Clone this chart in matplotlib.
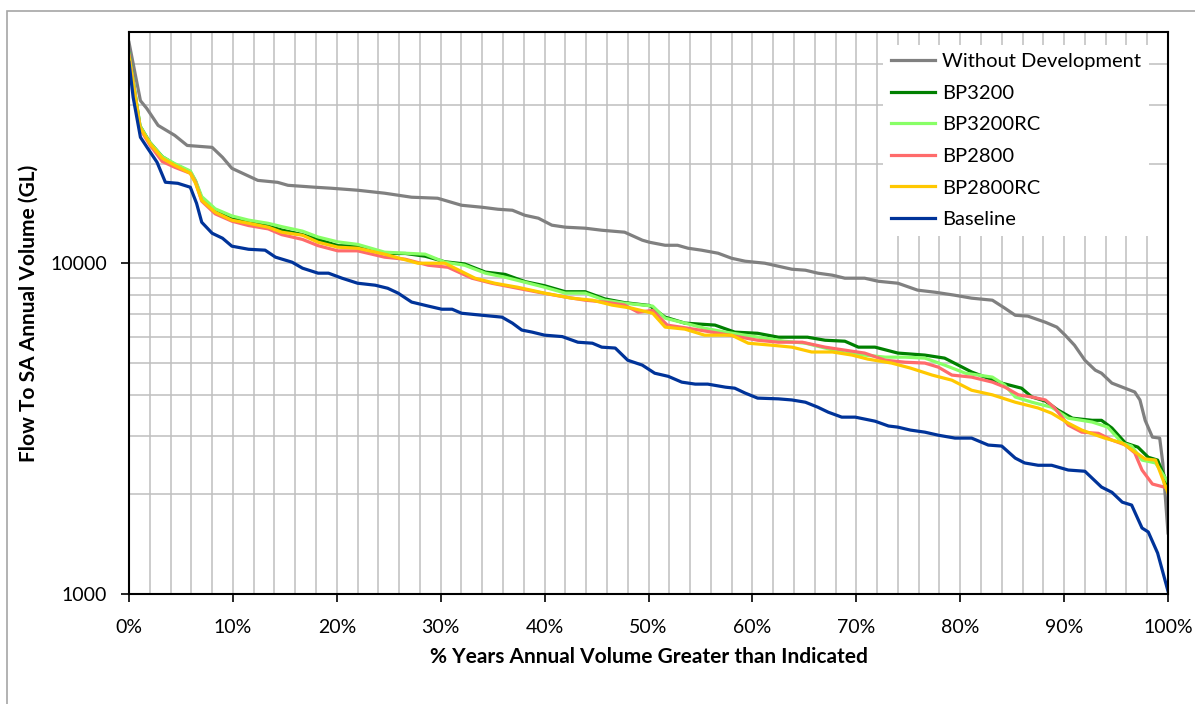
import numpy as np
import matplotlib as mpl
from matplotlib import pyplot as plt
from matplotlib.ticker import FixedLocator, NullFormatter, FuncFormatter

# % of years exceeded vs annual flow volume (GL)
x_without = [0, 1.1, 1.7, 2.8, 4.4, 5.6, 8.0, 9.0, 9.9, 12.4, 14.3, 15.3, 17.9, 19.5, 22, 24.6,
             27.2, 29.7, 32, 34, 35.5, 36.9, 38.1, 39.4, 40.7, 42, 43.9, 45.5, 47.7, 49.4, 50.1,
             51.6, 52.8, 53.8, 55.1, 56.7, 58, 59.3, 61.2, 63.8, 65.1, 66.3, 67.7, 68.9, 70.8,
             72.1, 74, 75.9, 77.6, 79.5, 81.1, 83.1, 84.3, 85.3, 86.5, 88.2, 89.3, 90.1, 91, 92,
             93, 93.6, 94.6, 95.6, 96.8, 97.3, 97.8, 98.5, 99.2, 99.5, 100]
without_dev = [46500, 31000, 29400, 26100, 24350, 22700, 22400, 20900, 19360, 17800, 17560, 17200,
               16970, 16850, 16620, 16280, 15830, 15720, 14970, 14760, 14560, 14460, 13960, 13680,
               13030, 12850, 12760, 12580, 12410, 11740, 11570, 11330, 11330, 11100, 10950, 10720,
               10350, 10140, 10000, 9590, 9525, 9330, 9200, 9010, 9010, 8820, 8700, 8290, 8170,
               8000, 7840, 7730, 7310, 6960, 6920, 6630, 6410, 6060, 5650, 5090, 4750, 4650, 4340,
               4220, 4080, 3860, 3350, 2980, 2960, 2490, 1530]

x_bp3200 = [0, 1.06, 2, 3.2, 4.4, 5.9, 6.4, 7, 8.3, 9.9, 11.5, 13.4, 14.7, 16.7, 18.2, 20.1, 22,
            24.6, 26.6, 28.5, 30.4, 32.3, 34.3, 36.2, 38.1, 40, 42, 43.9, 45.8, 47.7, 50.1,
            51.6, 53.5, 56.4, 58.3, 60.5, 62.5, 65.3, 67, 68.9, 70.2, 71.8, 74, 76.6, 78.5,
            80.2, 81.1, 82.4, 84, 85.9, 86.9, 88.2, 89.4, 90.8, 92.7, 93.6, 94.6, 95.9, 97.1,
            98.1, 99, 100]
bp3200 = [43000, 26000, 23200, 21000, 19900, 18900, 17700, 15700, 14400, 13600, 13400, 12950,
          12600, 12200, 11800, 11300, 11250, 10700, 10700, 10500, 10100, 9950, 9400, 9250, 8800,
          8550, 8200, 8200, 7800, 7600, 7450, 6870, 6590, 6500, 6190, 6140, 5975, 5975, 5850,
          5810, 5575, 5575, 5350, 5275, 5165, 4850, 4690, 4525, 4340, 4190, 3940, 3830, 3600,
          3400, 3350, 3350, 3175, 2860, 2780, 2590, 2540, 2135]

x_bp3200rc = [0, 1.06, 2, 3.2, 4.4, 5.9, 6.4, 7, 8.3, 9.9, 11.5, 13.4, 14.7, 16.7, 18.2, 20.1, 22,
              24.6, 26.6, 28.5, 30.4, 32.3, 34.3, 36.2, 38.1, 40, 42, 43.9, 45.8, 47.7, 50.4,
              51.6, 53.5, 55.4, 57.4, 59.3, 61.2, 63.1, 65.1, 67, 68.9, 70.8, 72.8, 74.7, 76.6,
              78.5, 80.5, 83.1, 84.3, 85.3, 86.9, 88.8, 90.4, 92.7, 94.2, 95.6, 96.5, 97.5, 98.8,
              100]
bp3200rc = [43000, 26000, 23200, 21000, 20000, 19000, 17800, 15900, 14600, 13900, 13500, 13200,
            12900, 12500, 12000, 11600, 11400, 10800, 10720, 10650, 10070, 9860, 9330, 9070,
            8760, 8460, 8120, 8120, 7730, 7570, 7420, 6820, 6590, 6360, 6190, 6060, 5935, 5810,
            5730, 5540, 5350, 5275, 5200, 5200, 5165, 4920, 4650, 4525, 4280, 3940, 3800, 3670,
            3400, 3310, 3195, 2860, 2800, 2540, 2490, 2180]

x_bp2800 = [0, 1.06, 2, 3.2, 4.4, 5.9, 6.4, 7, 8.3, 9.9, 11.5, 13.4, 14.7, 16.7, 18.2, 20.1, 22,
            24.6, 26.6, 28.8, 30.7, 33, 34.9, 37.4, 39.4, 42, 43.9, 45.8, 47.7, 49, 50.4,
            51.8, 53.8, 56.1, 58.3, 60.5, 62.5, 64.8, 67, 68.9, 70.8, 72.8, 74.7, 76.6, 77.9,
            79.2, 81.1, 83.1, 84.3, 85.6, 86.9, 88.2, 89.1, 90.4, 91.7, 93.3, 94.6, 95.9, 96.8,
            97.5, 98.5, 100]
bp2800 = [42500, 25500, 22800, 20300, 19500, 18700, 17600, 15400, 14100, 13400, 13000, 12700,
          12200, 11800, 11300, 10900, 10900, 10430, 10280, 9860, 9720, 9010, 8700, 8400, 8170,
          7900, 7730, 7630, 7470, 7110, 7200, 6500, 6360, 6190, 6020, 5850, 5770, 5770, 5575,
          5460, 5350, 5090, 5020, 4990, 4850, 4590, 4525, 4370, 4220, 4000, 3940, 3860, 3650,
          3240, 3085, 3060, 2920, 2820, 2670, 2370, 2150, 2090]

x_bp2800rc = [0, 1.06, 2, 3.2, 4.4, 5.9, 6.4, 7, 8.3, 9.9, 11.5, 13.4, 14.7, 16.7, 18.2, 20.1, 22,
              24.6, 27.8, 30.4, 33.3, 35.2, 37.4, 40, 42.6, 44.6, 46.5, 48.4, 50.4, 51.6, 53.5,
              55.4, 58, 59.6, 61.9, 63.8, 65.7, 67.7, 69.6, 71.1, 73.4, 75.2, 77.3, 79.2, 81.1,
              83.1, 85.3, 87.5, 88.8, 90.4, 91.7, 93.9, 95.6, 96.8, 97.8, 98.8, 100]
bp2800rc = [42000, 25760, 23040, 20760, 19770, 18700, 17450, 15500, 14260, 13490, 13210, 12850,
            12410, 12150, 11570, 11180, 11100, 10650, 10000, 10000, 9010, 8700, 8460, 8120, 7840,
            7730, 7470, 7310, 7060, 6410, 6320, 6060, 6060, 5730, 5650, 5575, 5390, 5390, 5275,
            5130, 4990, 4820, 4590, 4430, 4130, 4000, 3800, 3650, 3520, 3285, 3130, 2960, 2860,
            2690, 2560, 2540, 2020]

x_baseline = [0, 0.4, 1.1, 1.8, 2.7, 3.5, 4.7, 5.9, 6.5, 7, 8, 9, 9.9, 11.5, 13.1, 14.1, 15.7,
              16.7, 18.2, 19.2, 20.5, 22, 23.7, 24.9, 25.9, 27.2, 28.8, 30.1, 31.1, 32, 34, 35.9,
              36.9, 37.8, 38.8, 40, 41.7, 43.2, 44.6, 45.5, 46.8, 48, 49.4, 50.6, 51.9, 53.2,
              54.5, 55.7, 57.4, 58.3, 59.3, 60.5, 62.5, 63.8, 65.1, 66.3, 67.3, 68.6, 69.9, 71.8,
              73.1, 74, 75.2, 76.6, 77.9, 79.5, 81.1, 82.7, 84, 85.3, 86.2, 87.5, 88.8, 90.4, 92,
              93.6, 94.6, 95.6, 96.5, 97.5, 98.1, 99, 100]
baseline = [40500, 31730, 24030, 22250, 20190, 17570, 17440, 16970, 15180, 13300, 12320, 11900,
            11260, 11020, 10950, 10430, 10070, 9660, 9330, 9330, 9010, 8700, 8580, 8400, 8120,
            7630, 7420, 7260, 7260, 7060, 6960, 6870, 6590, 6280, 6190, 6060, 6000, 5770, 5730,
            5575, 5540, 5090, 4920, 4650, 4550, 4370, 4310, 4310, 4220, 4190, 4050, 3910, 3890,
            3860, 3800, 3670, 3545, 3425, 3425, 3330, 3220, 3195, 3130, 3085, 3020, 2960, 2960,
            2820, 2800, 2575, 2490, 2450, 2450, 2370, 2350, 2105, 2030, 1895, 1857, 1583, 1540,
            1330, 1020]

series = [
    ('Without Development', x_without, without_dev, '#808080'),
    ('BP3200', x_bp3200, bp3200, '#008000'),
    ('BP3200RC', x_bp3200rc, bp3200rc, '#88FF66'),
    ('BP2800', x_bp2800, bp2800, '#FF6B6B'),
    ('BP2800RC', x_bp2800rc, bp2800rc, '#FFC800'),
    ('Baseline', x_baseline, baseline, '#003399'),
]

if __name__ == '__main__':
    plt.rcParams['font.family'] = ['Lato', 'DejaVu Sans']
    W, H = 1195, 704
    fig = plt.figure(figsize=(W / 100, H / 100), dpi=100)
    ax = fig.add_axes([129 / W, 1 - 594 / H, (1168 - 129) / W, (594 - 32) / H])

    # light grey outer frame like the spreadsheet chart area
    fig.patches.append(mpl.patches.Rectangle((7 / W, -0.1), 1.2, 1 - 11 / H + 0.1,
                                             transform=fig.transFigure, fill=False,
                                             edgecolor='#A6A6A6', linewidth=1.2))

    for name, xs, ys, col in series:
        ax.plot(xs, ys, color=col, linewidth=2.3, label=name, solid_joinstyle='round')

    ax.set_yscale('log')
    ax.set_xlim(0, 100)
    ax.set_ylim(1000, 50000)

    ax.xaxis.set_major_locator(FixedLocator(np.arange(0, 101, 10)))
    ax.xaxis.set_minor_locator(FixedLocator(np.arange(0, 101, 2)))
    ax.xaxis.set_major_formatter(FuncFormatter(lambda v, p: f'{v:.0f}%'))
    ax.yaxis.set_major_locator(FixedLocator([1000, 10000]))
    ax.yaxis.set_minor_locator(FixedLocator([2000, 3000, 4000, 5000, 6000, 7000, 8000, 9000,
                                             20000, 30000, 40000]))
    ax.yaxis.set_major_formatter(FuncFormatter(lambda v, p: f'{v:.0f}'))
    ax.yaxis.set_minor_formatter(NullFormatter())

    ax.grid(which='both', axis='both', color='#BFBFBF', linewidth=1.1)
    ax.set_axisbelow(True)
    ax.tick_params(which='major', length=6, width=1.2, direction='out', labelsize=14)
    ax.tick_params(axis='x', which='major', pad=12)
    ax.tick_params(axis='y', which='major', pad=10)
    ax.tick_params(which='minor', length=0)
    for s in ax.spines.values():
        s.set_linewidth(1.5)
        s.set_color('black')

    ax.set_xlabel('% Years Annual Volume Greater than Indicated', fontsize=15,
                  fontweight='bold', labelpad=8)
    ax.set_ylabel('Flow To SA Annual Volume (GL)', fontsize=15, fontweight='bold', labelpad=8)

    leg = ax.legend(loc='upper right', bbox_to_anchor=(1149 / W, 1 - 45 / H),
                    bbox_transform=fig.transFigure, fontsize=14.5, frameon=True, fancybox=False,
                    framealpha=1, edgecolor='none', handlelength=2.2, labelspacing=0.72,
                    borderaxespad=0, borderpad=0.4, handletextpad=0.35)

    plt.savefig('out.png', dpi=100)
